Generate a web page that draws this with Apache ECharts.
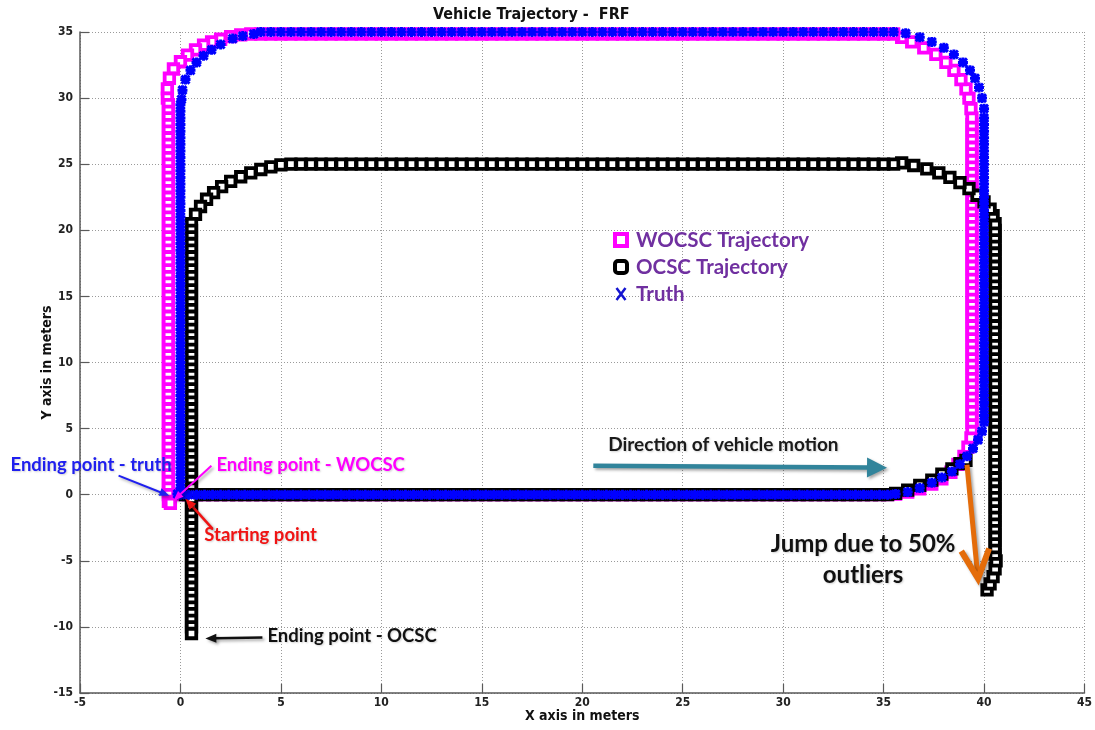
<!DOCTYPE html>
<html><head><meta charset="utf-8">
<script src="https://cdn.jsdelivr.net/npm/echarts@6/dist/echarts.min.js"></script>
<style>html,body{margin:0;padding:0;background:#fff}#c{width:1095px;height:730px}</style>
</head><body><div id="c"></div>
<script>
// ---------- data (metres) ----------
const xTicks = [-5, 0, 5, 10, 15, 20, 25, 30, 35, 40, 45];
const yTicks = [-15, -10, -5, 0, 5, 10, 15, 20, 25, 30, 35];

// sample positions along the straight stretches
const bottomX = [0.4,0.8,1.2,1.6,2,2.4,2.8,3.2,3.6,4,4.4,4.8,5.2,5.6,6,6.4,6.8,7.2,7.6,8,8.4,8.8,9.2,9.6,10,10.4,10.8,11.2,11.6,12,12.4,12.8,13.2,13.6,14,14.4,14.8,15.2,15.6,16,16.4,16.8,17.2,17.6,18,18.4,18.8,19.2,19.6,20,20.4,20.8,21.2,21.6,22,22.4,22.8,23.2,23.6,24,24.4,24.8,25.2,25.6,26,26.4,26.8,27.2,27.6,28,28.4,28.8,29.2,29.6,30,30.4,30.8,31.2,31.6,32,32.4,32.8,33.2,33.6,34,34.4,34.8,35.2];
const topX = [35.5,35,34.5,34,33.5,33,32.5,32,31.5,31,30.5,30,29.5,29,28.5,28,27.5,27,26.5,26,25.5,25,24.5,24,23.5,23,22.5,22,21.5,21,20.5,20,19.5,19,18.5,18,17.5,17,16.5,16,15.5,15,14.5,14,13.5,13,12.5,12,11.5,11,10.5,10,9.5,9,8.5,8,7.5,7,6.5,6,5.5,5,4.5,4,3.5];
const sideY = [-10.5,-10,-9.5,-9,-8.5,-8,-7.5,-7,-6.5,-6,-5.5,-5,-4.5,-4,-3.5,-3,-2.5,-2,-1.5,-1,-0.5,0,0.5,1,1.5,2,2.5,3,3.5,4,4.5,5,5.5,6,6.5,7,7.5,8,8.5,9,9.5,10,10.5,11,11.5,12,12.5,13,13.5,14,14.5,15,15.5,16,16.5,17,17.5,18,18.5,19,19.5,20,20.5,21,21.5,22,22.5,23,23.5,24,24.5,25,25.5,26,26.5,27,27.5,28,28.5,29,29.5];

// levels of the straight stretches: [bottom y, right x, top y, left x]
const truthLevels = [0, 40.0, 35.0, 0.0];
const wocscLevels = [0, 39.4, 34.85, -0.6];
const ocscLevels  = [0, 40.55, 25.0, 0.55];

// Truth corners
const truthBR = [[35.6,0.05],[36.2,0.2],[36.8,0.5],[37.4,0.9],[37.9,1.3],[38.4,1.75],[38.8,2.3],[39.15,2.9],[39.45,3.5],[39.7,4.15],[39.9,4.8]];
const truthTR = [[40.0,29.2],[39.9,30.0],[39.75,30.8],[39.55,31.5],[39.3,32.1],[38.95,32.7],[38.5,33.3],[38.0,33.8],[37.4,34.25],[36.8,34.6],[36.1,34.9]];
const truthTL = [[3.65,34.85],[3.1,34.7],[2.6,34.5],[2.0,34.05],[1.55,33.65],[1.15,33.2],[0.8,32.7],[0.5,32.1],[0.25,31.4],[0.1,30.6],[0.05,29.9]];
const truthEnds = [[0,0],[-0.15,0.05]];

// WOCSC corners
const wocscBR = [[35.6,0.05],[36.2,0.2],[36.8,0.45],[37.4,0.8],[37.9,1.2],[38.35,1.7],[38.7,2.3],[39.0,2.9],[39.2,3.6],[39.35,4.3]];
const wocscTR = [[39.35,29.2],[39.25,30.0],[39.1,30.7],[38.85,31.4],[38.5,32.1],[38.1,32.7],[37.6,33.3],[37.0,33.8],[36.4,34.25],[35.9,34.6]];
const wocscTL = [[3.0,34.78],[2.5,34.65],[2.0,34.45],[1.55,34.25],[1.15,34.0],[0.75,33.65],[0.35,33.25],[0.0,32.75],[-0.35,32.2],[-0.55,31.5],[-0.65,30.7],[-0.65,30.0]];
const wocscEnds = [[0,0],[-0.5,-0.65]];

// OCSC corners
const ocscBR = [[35.6,0.1],[36.2,0.35],[36.8,0.7],[37.4,1.1],[37.9,1.55],[38.4,1.95],[38.8,2.35],[39.1,2.6]];
const ocscJump = [[40.15,-7.2],[40.3,-6.75],[40.45,-6.2],[40.55,-5.6],[40.6,-5.0]];
const ocscTR = [[40.45,21.1],[40.3,21.6],[40.0,22.15],[39.65,22.65],[39.25,23.15],[38.8,23.6],[38.3,24.0],[37.75,24.35],[37.15,24.65],[36.5,24.9],[35.9,25.1]];
const ocscTL = [[5.0,24.95],[4.5,24.8],[4.0,24.6],[3.5,24.35],[3.0,24.05],[2.5,23.7],[2.05,23.3],[1.65,22.85],[1.3,22.35],[1.0,21.8],[0.75,21.2]];
const ocscStart = [[0.25,0]];

// ranges of each straight stretch: [rightYmin, rightYmax, topXmin, leftYmax, leftYmin]
const truthRanges = [5.5, 28.5, 4.0, 29.5, 0.5];
const wocscRanges = [5.0, 28.5, 3.5, 29.5, -0.5];
const ocscRanges  = [-4.5, 20.5, 5.5, 20.5, -10.5];

function build(levels, ranges, start, br, extra, tr, tl, end) {
  const [by, rx, ty, lx] = levels;
  const [r0, r1, t0, l1, l0] = ranges;
  return [].concat(
    start,
    bottomX.map(x => [x, by]),
    br, extra,
    sideY.filter(y => y >= r0 && y <= r1).map(y => [rx, y]),
    tr,
    topX.filter(x => x >= t0).map(x => [x, ty]),
    tl,
    sideY.filter(y => y <= l1 && y >= l0).slice().reverse().map(y => [lx, y]),
    end
  );
}
const truthData = build(truthLevels, truthRanges, [truthEnds[0]], truthBR, [], truthTR, truthTL, [truthEnds[1]]);
const wocscData = build(wocscLevels, wocscRanges, [wocscEnds[0]], wocscBR, [], wocscTR, wocscTL, [wocscEnds[1]]);
const ocscData  = build(ocscLevels, ocscRanges, ocscStart, ocscBR, ocscJump, ocscTR, ocscTL, []);

// annotations (data coordinates)
const annotTexts = [
  {text:'Ending point - truth', at:[-8.46,2.27], align:'left', color:'#1f1fef', size:18.5},
  {text:'Ending point - WOCSC', at:[1.79,2.27], align:'left', color:'#ff00ff', size:18.5},
  {text:'Starting point', at:[1.19,-3.02], align:'left', color:'#f01414', size:18.5},
  {text:'Ending point - OCSC', at:[4.33,-10.66], align:'left', color:'#111111', size:18.5},
  {text:'Direction of vehicle motion', at:[21.29,3.78], align:'left', color:'#1a1a1a', size:19},
  {text:'Jump due to 50%', at:[33.98,-3.78], align:'center', color:'#111111', size:24},
  {text:'outliers', at:[33.98,-6.12], align:'center', color:'#111111', size:24}
];
const annotArrows = [
  {from:[-3.08,1.44], to:[-0.55,-0.08], color:'#1f1fef', width:2, head:10, headW:8},
  {from:[1.54,2.19], to:[-0.35,-0.45], color:'#ff00ff', width:2, head:10, headW:8},
  {from:[1.59,-2.57], to:[0.25,-0.3], color:'#f01414', width:2.5, head:11, headW:9},
  {from:[4.08,-10.81], to:[1.24,-10.88], color:'#111111', width:2.5, head:11, headW:9},
  {from:[20.55,2.19], to:[35.17,2.04], color:'#31849b', width:4.5, head:20, headW:20},
  {from:[39.15,2.27], to:[39.7,-6.35], color:'#e46c0a', width:5, head:29, headW:28, open:true}
];

// ---------- chart ----------
const NARROW = "'Liberation Sans Narrow','DejaVu Sans Condensed','Liberation Sans',Arial,sans-serif";
const CAL = "Lato,'Open Sans',sans-serif";
const chart = echarts.init(document.getElementById('c'), null, {renderer:'canvas'});

const splitStyle = {show:true, lineStyle:{color:'#9a9a9a', type:[1,2], width:1}};
const axisLineStyle = {show:true, onZero:false, lineStyle:{color:'#5a5a5a', width:1.5}};

chart.setOption({
  animation:false,
  backgroundColor:'#ffffff',
  title:{text:'Vehicle Trajectory -  FRF', left:428, top:2,
    textStyle:{fontFamily:NARROW, fontWeight:'bold', fontSize:16, color:'#111'}},
  grid:{left:80, right:10, top:32, bottom:37, containLabel:false},
  xAxis:{type:'value', min:xTicks[0], max:xTicks[xTicks.length-1], interval:5,
    name:'X axis in meters', nameLocation:'middle', nameGap:16, nameMoveOverlap:false,
    nameTextStyle:{fontFamily:NARROW, fontWeight:'bold', fontSize:14, color:'#111'},
    axisLine:axisLineStyle, axisTick:{show:true, inside:true, length:9, lineStyle:{color:'#5a5a5a', width:1.2}},
    axisLabel:{fontFamily:NARROW, fontWeight:'bold', fontSize:12, color:'#222', margin:4, showMinLabel:true, showMaxLabel:true},
    splitLine:splitStyle},
  yAxis:{type:'value', min:yTicks[0], max:yTicks[yTicks.length-1], interval:5,
    name:'Y axis in meters', nameLocation:'middle', nameGap:26, nameRotate:90, nameMoveOverlap:false,
    nameTextStyle:{fontFamily:NARROW, fontWeight:'bold', fontSize:14, color:'#111'},
    axisLine:axisLineStyle, axisTick:{show:true, inside:true, length:9, lineStyle:{color:'#5a5a5a', width:1.2}},
    axisLabel:{fontFamily:NARROW, fontWeight:'bold', fontSize:12, color:'#222', margin:7, showMinLabel:true, showMaxLabel:true},
    splitLine:splitStyle},
  legend:{orient:'vertical', left:608, top:224, itemWidth:12, itemHeight:12, itemGap:5, selectedMode:false,
    textStyle:{color:'#7030a0', fontFamily:CAL, fontWeight:'bold', fontSize:20.5, lineHeight:22, padding:[0,0,0,4]},
    data:[
      {name:'WOCSC Trajectory', icon:'rect', itemStyle:{color:'#fff', borderColor:'#ff00ff', borderWidth:4}},
      {name:'OCSC Trajectory', icon:'roundRect', itemStyle:{color:'#fff', borderColor:'#000', borderWidth:4}},
      {name:'Truth', icon:'path://M2,3L8,11M8,3L2,11', itemStyle:{color:'#1515d0', borderColor:'#1515d0', borderWidth:2.5}}
    ]},
  series:[
    {name:'WOCSC Trajectory', type:'scatter', data:wocscData, symbol:'rect', symbolSize:9.5, silent:true,
      itemStyle:{color:'#ffffff', borderColor:'#ff00ff', borderWidth:3.8, opacity:1}, z:2},
    {name:'OCSC Trajectory', type:'scatter', data:ocscData, symbol:'rect', symbolSize:9.5, silent:true,
      itemStyle:{color:'#ffffff', borderColor:'#000000', borderWidth:3.8, opacity:1}, z:3},
    {name:'Truth', type:'scatter', data:truthData, symbol:'path://M1,1L9,9M9,1L1,9M5,0L5,10M0,5L10,5', symbolSize:10, silent:true,
      itemStyle:{color:'#0000ff', borderColor:'#0000ff', borderWidth:3, opacity:1}, z:4}
  ]
});

// ---------- annotations placed through the axes' scales ----------
const px = p => chart.convertToPixel({gridIndex:0}, p);
const graphics = [];
annotArrows.forEach(a => {
  const p0 = px(a.from), p1 = px(a.to);
  const dx = p1[0]-p0[0], dy = p1[1]-p0[1], L = Math.hypot(dx, dy);
  const ux = dx/L, uy = dy/L, nx = -uy, ny = ux;
  const bx = p1[0]-ux*a.head, by = p1[1]-uy*a.head;
  const shadow = {shadowBlur:3, shadowColor:'rgba(0,0,0,0.35)', shadowOffsetX:2, shadowOffsetY:2};
  const left = [bx+nx*a.headW/2, by+ny*a.headW/2], right = [bx-nx*a.headW/2, by-ny*a.headW/2];
  graphics.push({type:'line', z:100, silent:true,
    shape:{x1:p0[0], y1:p0[1], x2:a.open ? p1[0]-ux*3 : bx+ux*1, y2:a.open ? p1[1]-uy*3 : by+uy*1},
    style:Object.assign({stroke:a.color, lineWidth:a.width}, shadow)});
  if (a.open) {
    graphics.push({type:'polyline', z:100, silent:true, shape:{points:[left, p1, right]},
      style:Object.assign({stroke:a.color, lineWidth:a.width+1, fill:null, lineJoin:'miter'}, shadow)});
  } else {
    graphics.push({type:'polygon', z:100, silent:true, shape:{points:[left, p1, right]},
      style:Object.assign({fill:a.color}, shadow)});
  }
});
annotTexts.forEach(t => {
  const p = px(t.at);
  graphics.push({type:'text', z:101, silent:true, x:p[0], y:p[1],
    style:{text:t.text, fill:t.color, font:'bold '+t.size+'px '+CAL, textAlign:t.align, textVerticalAlign:'middle',
      textShadowColor:'rgba(0,0,0,0.18)', textShadowBlur:2, textShadowOffsetX:1, textShadowOffsetY:1}});
});
chart.setOption({graphic:graphics});
</script>
</body></html>
